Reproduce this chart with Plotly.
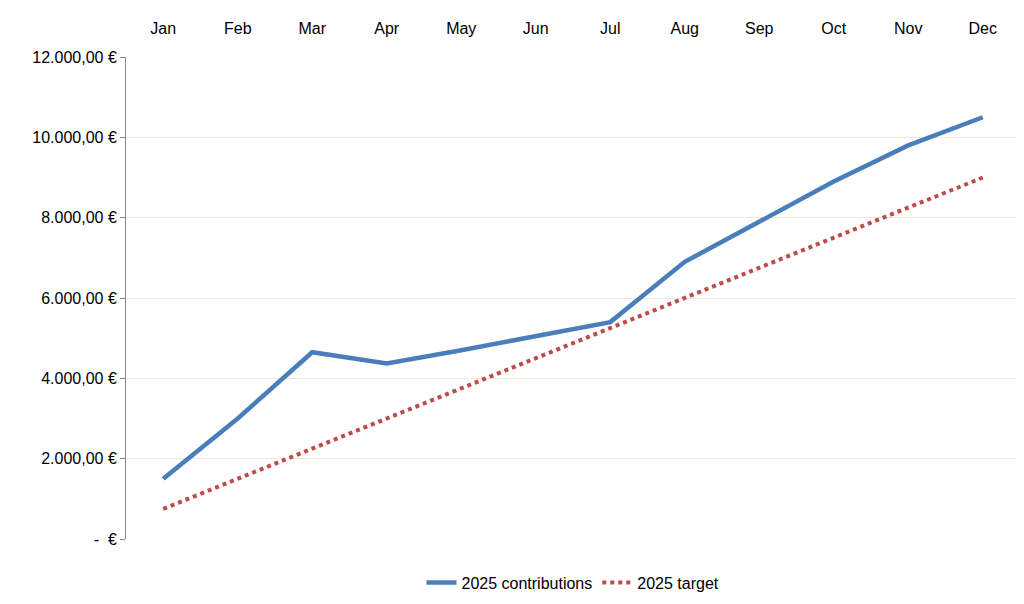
import plotly.graph_objects as go

months = ["Jan","Feb","Mar","Apr","May","Jun","Jul","Aug","Sep","Oct","Nov","Dec"]
contributions = [1500, 3000, 4650, 4370, 4700, 5050, 5400, 6900, 7900, 8900, 9800, 10500]
target = [750, 1500, 2250, 3000, 3750, 4500, 5250, 6000, 6750, 7500, 8250, 9000]
tick_vals = [0, 2000, 4000, 6000, 8000, 10000, 12000]
tick_text = ["-  €", "2.000,00 €", "4.000,00 €", "6.000,00 €", "8.000,00 €", "10.000,00 €", "12.000,00 €"]

fig = go.Figure()
fig.add_trace(go.Scatter(x=months, y=contributions, mode="lines", name="2025 contributions",
                         line=dict(color="#4a7ebb", width=4.5)))
fig.add_trace(go.Scatter(x=months, y=target, mode="lines", name="2025 target",
                         line=dict(color="#be4b48", width=4, dash="dot")))
fig.update_layout(
    width=1024, height=604, plot_bgcolor="white", paper_bgcolor="white",
    margin=dict(l=118, r=12, t=49, b=64),
    font=dict(family="Liberation Sans, Arial", size=16, color="black"),
    legend=dict(orientation="h", x=0.5, xanchor="center", y=-0.055, yanchor="top",
                font=dict(size=16)),
    xaxis=dict(side="top", showgrid=False, showline=False, ticks="outside", ticklen=16,
               tickcolor="rgba(0,0,0,0)", range=[-0.5, 11.5], automargin=False),
    yaxis=dict(range=[0, 12000], tickvals=tick_vals, ticktext=tick_text,
               gridcolor="#ece9dc", showline=True, linecolor="#888", ticks="outside",
               ticklen=5, tickcolor="#888", zeroline=False, automargin=False),
)
fig.write_html("out.html")
